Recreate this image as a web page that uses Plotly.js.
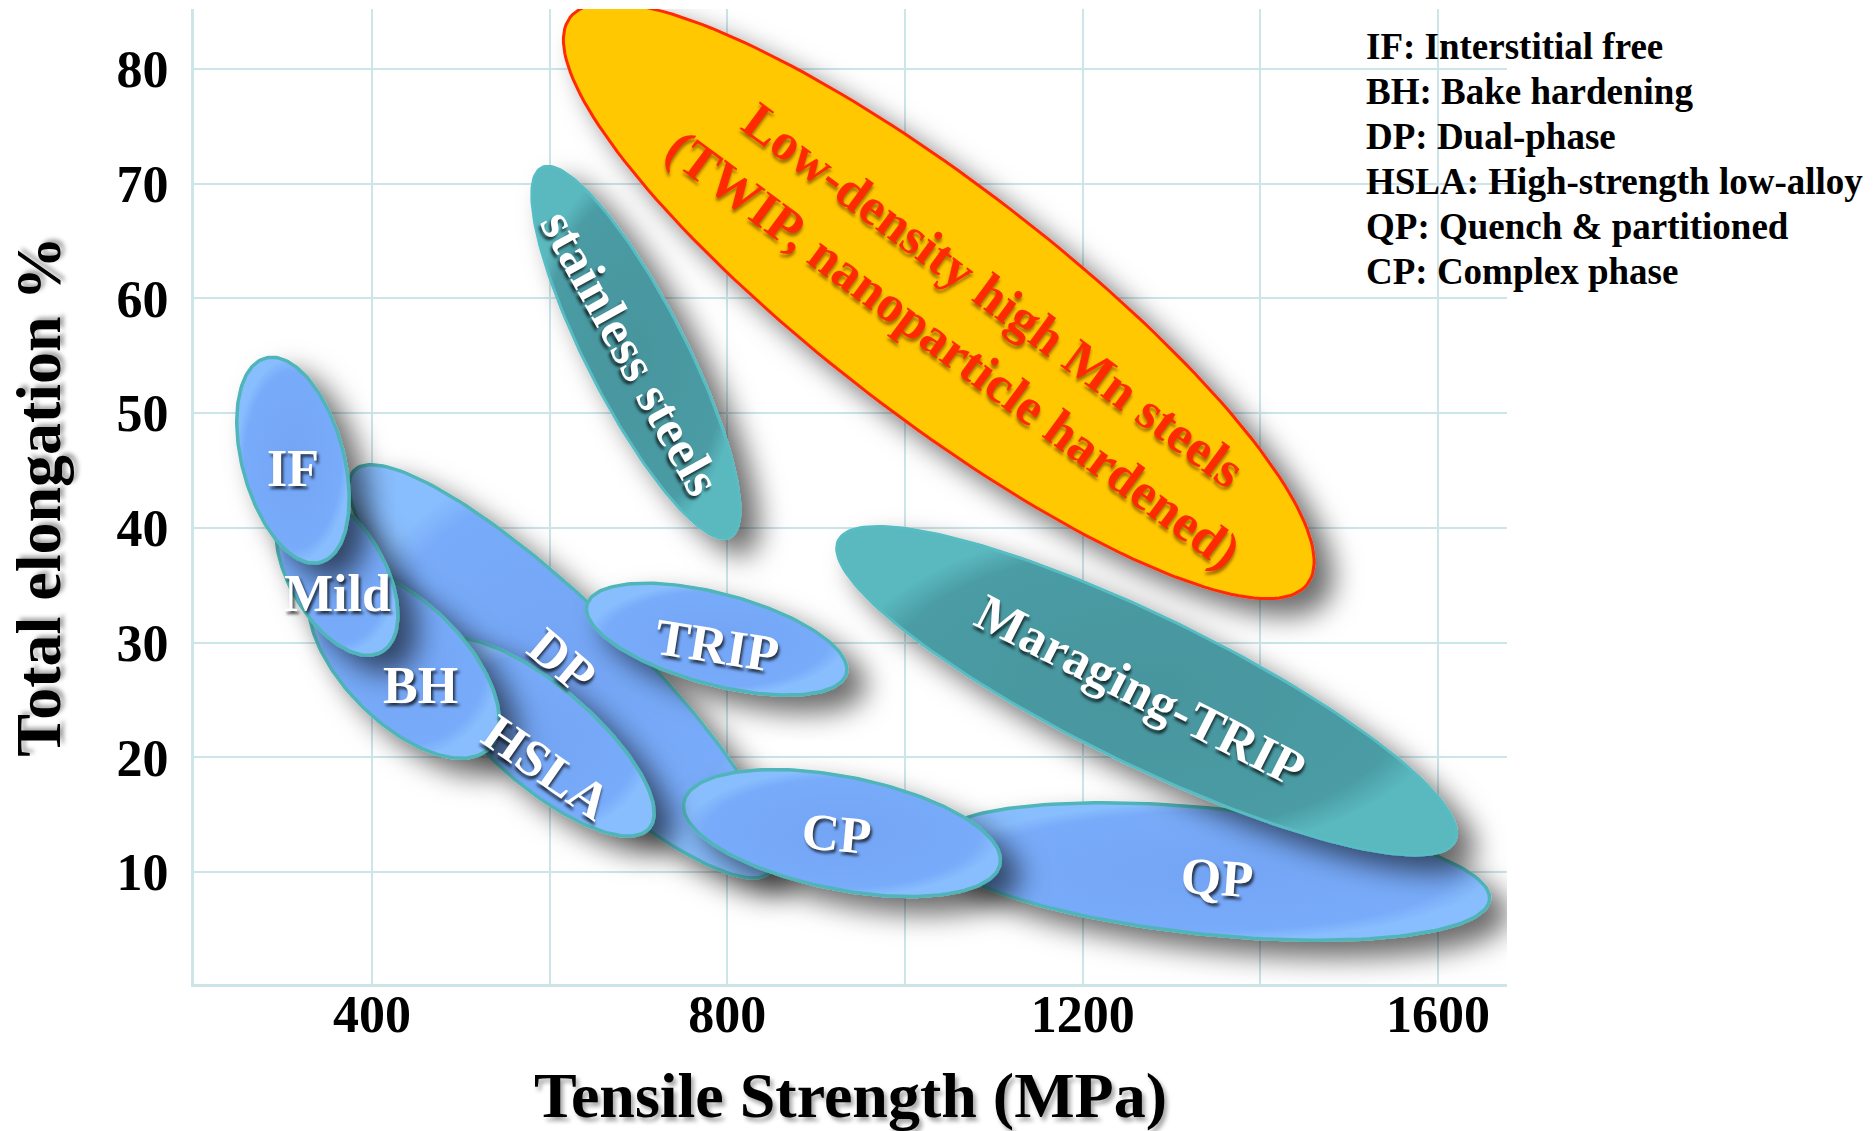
<!DOCTYPE html>
<html>
<head>
<meta charset="utf-8">
<script src="https://cdn.plot.ly/plotly-3.0.1.min.js"></script>
<style>
  html, body { margin: 0; padding: 0; background: #ffffff; }
  #chart { width: 1874px; height: 1131px; }
</style>
</head>
<body>
<div id="chart"></div>
<script>
// Steel families on the tensile strength / total elongation map.
// Each family envelope is an ellipse given by the two ends of its long axis
// (tensile strength in MPa, total elongation in %) and its width-to-length ratio.
const families = [
  'Low-density high Mn steels<br>(TWIP, nanoparticle hardened)',
  'stainless steels', 'QP', 'Maraging-TRIP', 'DP', 'TRIP', 'CP', 'HSLA', 'BH', 'Mild', 'IF'
];
const strengthStart   = [623, 591, 1030, 925, 380, 642, 751, 473, 340, 310, 280];
const elongationStart = [84.5, 71.4, 12.5, 38.9, 45.0, 33.3, 16.1, 29.7, 35.6, 42.8, 54.8];
const strengthEnd     = [1453, 803, 1658, 1619, 848, 934, 1107, 712, 532, 411, 342];
const elongationEnd   = [35.1, 39.2, 7.6, 12.7, 10.0, 27.3, 10.7, 13.8, 20.8, 29.2, 37.0];
const widthRatio      = [0.25, 0.24, 0.225, 0.216, 0.235, 0.34, 0.35, 0.36, 0.5, 0.53, 0.48];

const strengthTicks     = [400, 600, 800, 1000, 1200, 1400, 1600];
const strengthTickText  = ['400', '', '800', '', '1200', '', '1600'];
const elongationTicks   = [10, 20, 30, 40, 50, 60, 70, 80];
const glossary = [
  'IF: Interstitial free',
  'BH: Bake hardening',
  'DP: Dual-phase',
  'HSLA: High-strength low-alloy',
  'QP: Quench & partitioned',
  'CP: Complex phase'
];

// ---- page geometry ----
const W = 1874, H = 1131;
const M = { l: 194, r: 367, t: 9, b: 147 };
const plotW = W - M.l - M.r, plotH = H - M.t - M.b;
const xRange = [199.6, 1677.7];
const yRange = [0.24, 85.23];
const kx = plotW / (xRange[1] - xRange[0]);   // px per MPa
const ky = plotH / (yRange[1] - yRange[0]);   // px per % elongation
const pxToX = px => xRange[0] + (px - M.l) / kx;
const pxToY = py => yRange[0] + (H - M.b - py) / ky;
const paperX = px => (px - M.l) / plotW;
const paperY = py => (H - M.b - py) / plotH;

// ---- looks of each kind of envelope ----
const looks = {
  gold: { fill: '#ffc800', line: '#ff2a00', width: 3, grad: null },
  teal: { fill: '#4a9ca4', line: '#58bcc3', width: 3,
          grad: [[0, '#47959e'], [0.86, '#4b9ca4'], [1, '#5ab8bf']] },
  blue: { fill: '#76a8f7', line: '#4fb5b9', width: 3.5,
          grad: [[0, '#73a5f5'], [0.86, '#78abf9'], [1, '#88bdfe']] }
};
const kindOf = { 'stainless steels': 'teal', 'Maraging-TRIP': 'teal' };
kindOf[families[0]] = 'gold';

// label placement (rotation in degrees, nudge in px)
const labelStyle = {
  [families[0]]:      { angle: 36.5, dx: 35, dy: -22, color: '#ff2a00' },
  'stainless steels': { angle: 61,   dx: -5, dy: 0 },
  'QP':               { angle: 4,    dx: 6,  dy: -6 },
  'Maraging-TRIP':    { angle: 27,   dx: -6, dy: 0 },
  'DP':               { angle: 40,   dx: 0,  dy: 11 },
  'TRIP':             { angle: 9,    dx: 0,  dy: -6 },
  'CP':               { angle: 5,    dx: -5, dy: 0 },
  'HSLA':             { angle: 35,   dx: 4,  dy: -30 },
  'BH':               { angle: 0,    dx: 17, dy: -22 },
  'Mild':             { angle: 0,    dx: 1,  dy: -20 },
  'IF':               { angle: 0,    dx: 0,  dy: -8 }
};

// outline of one envelope, built in pixel-proportional space so it stays elliptic on screen
function envelope(i) {
  const ax = strengthStart[i] * kx, ay = elongationStart[i] * ky;
  const bx = strengthEnd[i] * kx,   by = elongationEnd[i] * ky;
  const cx = (ax + bx) / 2, cy = (ay + by) / 2;
  const a = Math.hypot(bx - ax, by - ay) / 2, b = a * widthRatio[i];
  const th = Math.atan2(by - ay, bx - ax);
  const xs = [], ys = [];
  const n = 180;
  for (let k = 0; k <= n; k++) {
    const t = 2 * Math.PI * k / n;
    const u = a * Math.cos(t), v = b * Math.sin(t);
    xs.push((cx + u * Math.cos(th) - v * Math.sin(th)) / kx);
    ys.push((cy + u * Math.sin(th) + v * Math.cos(th)) / ky);
  }
  return { xs, ys, cx: cx / kx, cy: cy / ky };
}

const serif = 'Liberation Serif, Times New Roman, serif';
const traces = [];
const annotations = [];

families.forEach((name, i) => {
  const e = envelope(i);
  const look = looks[kindOf[name] || 'blue'];
  const trace = {
    type: 'scatter', mode: 'lines', name: name.replace('<br>', ' '),
    x: e.xs, y: e.ys,
    fill: 'toself', fillcolor: look.fill,
    line: { color: look.line, width: look.width },
    hoverinfo: 'skip', showlegend: false
  };
  if (look.grad) trace.fillgradient = { type: 'radial', colorscale: look.grad };
  traces.push(trace);
  const ls = labelStyle[name];
  annotations.push({
    xref: 'x', yref: 'y', x: e.cx, y: e.cy,
    xshift: ls.dx, yshift: ls.dy,
    text: name, showarrow: false, textangle: ls.angle,
    xanchor: 'center', yanchor: 'middle',
    font: { family: serif, size: 52, weight: 'bold', color: ls.color || '#ffffff',
            shadow: ls.color ? '2px 3px 3px rgba(90,40,0,0.55)' : '2px 3px 3px rgba(0,0,0,0.7)' }
  });
});

// glossary of abbreviations, top right
const glossaryTop = 47, glossaryStep = 44.8;
glossary.forEach((line, j) => {
  annotations.push({
    xref: 'paper', yref: 'paper', x: paperX(1364), y: paperY(glossaryTop + j * glossaryStep),
    xanchor: 'left', yanchor: 'middle', showarrow: false, text: line,
    font: { family: serif, size: 37, weight: 'bold', color: '#000000' }
  });
});

const gridColor = '#cbe5e9';
const layout = {
  width: W, height: H,
  margin: M,
  paper_bgcolor: '#ffffff', plot_bgcolor: '#ffffff',
  showlegend: false,
  xaxis: {
    range: xRange, automargin: false,
    tickmode: 'array', tickvals: strengthTicks, ticktext: strengthTickText,
    showgrid: true, gridcolor: gridColor, gridwidth: 2,
    showline: true, linecolor: gridColor, linewidth: 3, mirror: false,
    zeroline: false, ticks: '', ticklabelstandoff: -17,
    tickfont: { family: serif, size: 52, weight: 'bold', color: '#000000' },
    title: { text: 'Tensile Strength (MPa)', standoff: 50,
             font: { family: serif, size: 64, weight: 'bold', color: '#000000',
                     shadow: '3px 4px 4px rgba(0,0,0,0.35)' } }
  },
  yaxis: {
    range: yRange, automargin: false,
    tickmode: 'array', tickvals: elongationTicks,
    showgrid: true, gridcolor: gridColor, gridwidth: 2,
    showline: true, linecolor: gridColor, linewidth: 3, mirror: false,
    zeroline: false, ticks: '', ticklabelstandoff: 12,
    tickfont: { family: serif, size: 52, weight: 'bold', color: '#000000' },
    title: { text: 'Total elongation %', standoff: 36,
             font: { family: serif, size: 64, weight: 'bold', color: '#000000',
                     shadow: '3px 4px 4px rgba(0,0,0,0.35)' } }
  },
  shapes: [{
    // clear panel behind the glossary
    type: 'rect', layer: 'below', xref: 'x', yref: 'y',
    x0: pxToX(1343), x1: xRange[1] + 50, y0: pxToY(305), y1: yRange[1] + 10,
    fillcolor: '#ffffff', line: { width: 0 }
  }],
  annotations
};

Plotly.newPlot('chart', traces, layout, { staticPlot: true, displayModeBar: false }).then(gd => {
  // soft drop shadow under every envelope
  const ns = 'http://www.w3.org/2000/svg';
  const svg = gd.querySelector('.main-svg');
  let defs = svg.querySelector('defs');
  if (!defs) { defs = document.createElementNS(ns, 'defs'); svg.insertBefore(defs, svg.firstChild); }
  const filter = document.createElementNS(ns, 'filter');
  filter.setAttribute('id', 'envelopeShadow');
  filter.setAttribute('x', '-30%'); filter.setAttribute('y', '-30%');
  filter.setAttribute('width', '170%'); filter.setAttribute('height', '170%');
  const drop = document.createElementNS(ns, 'feDropShadow');
  drop.setAttribute('dx', '18'); drop.setAttribute('dy', '16');
  drop.setAttribute('stdDeviation', '14');
  drop.setAttribute('flood-color', '#000000'); drop.setAttribute('flood-opacity', '0.58');
  filter.appendChild(drop);
  defs.appendChild(filter);
  gd.querySelectorAll('.scatterlayer .trace').forEach(g => g.setAttribute('filter', 'url(#envelopeShadow)'));
});
</script>
</body>
</html>
